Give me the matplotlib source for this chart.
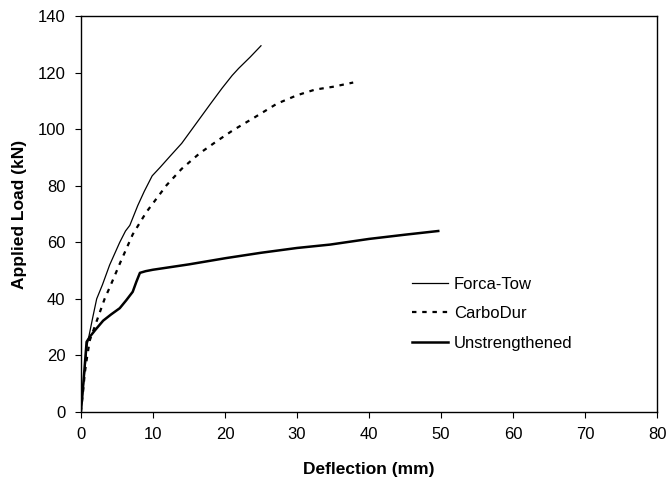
import matplotlib
matplotlib.use("Agg")
import matplotlib.pyplot as plt

plt.rcParams['font.family'] = ['Liberation Sans', 'DejaVu Sans']

# Forca-Tow strengthened beam
forca_x = [0, 0.3, 0.6, 0.9, 1.3, 1.7, 2.2, 3.0, 4.0, 5.4, 6.2, 6.8, 7.9, 8.8, 9.9,
           11.0, 12.4, 14.0, 16.0, 18.0, 19.6, 21.0, 21.9, 23.5, 25.0]
forca_y = [0, 8, 16, 24, 29, 34, 40, 45, 52, 60, 64, 66, 73, 78, 83.5,
           86.5, 90.5, 95, 102, 109, 114.5, 119, 121.5, 125.5, 129.5]

# CarboDur strengthened beam
carbo_x = [0, 0.3, 0.55, 0.9, 1.25, 1.9, 2.6, 3.3, 4.0, 5.5, 7.2, 9.1, 11.9, 14.0,
           16.5, 19.0, 21.1, 24.0, 27.2, 30.0, 32.5, 35.0, 37.8]
carbo_y = [0, 7, 13.8, 20, 25.4, 30, 35, 40, 44, 53, 62.8, 70.7, 80.2, 86,
           91.5, 96, 99.6, 104, 109, 112, 114, 115, 116.5]

# Unstrengthened beam
unstr_x = [0, 0.2, 0.5, 0.8, 1.25, 2.0, 3.1, 4.2, 5.4, 6.3, 7.2, 7.7, 8.2, 9.0,
           10.0, 15.0, 20.1, 25.0, 30.0, 34.6, 40.0, 45.0, 49.6]
unstr_y = [0, 5.4, 15, 24.8, 26.6, 29, 32.3, 34.5, 36.7, 39.5, 42.5, 46, 49.2, 49.8,
           50.3, 52.2, 54.4, 56.3, 58, 59.2, 61.2, 62.7, 64]

fig, ax = plt.subplots(figsize=(6.68, 4.87), dpi=100)
fig.subplots_adjust(left=0.121, right=0.984, top=0.967, bottom=0.154)

ax.plot(forca_x, forca_y, color='black', lw=0.9, label='Forca-Tow')
ax.plot(carbo_x, carbo_y, color='black', lw=1.6, linestyle=(0, (2.0, 2.6)), label='CarboDur')
ax.plot(unstr_x, unstr_y, color='black', lw=1.8, label='Unstrengthened')

ax.set_xlim(0, 80)
ax.set_ylim(0, 140)
ax.set_xticks(range(0, 81, 10))
ax.set_yticks(range(0, 141, 20))
ax.tick_params(direction='out', length=4, width=0.8, labelsize=12, pad=7)
for s in ax.spines.values():
    s.set_linewidth(1.0)

ax.set_xlabel('Deflection (mm)', fontsize=12.5, fontweight='bold', labelpad=14)
ax.set_ylabel('Applied Load (kN)', fontsize=12.5, fontweight='bold', labelpad=8)

ax.legend(loc='upper left', bbox_to_anchor=(0.56, 0.363), frameon=False, borderpad=0,
          fontsize=12, handlelength=2.15, handletextpad=0.36, labelspacing=0.88)

fig.savefig('out.png', dpi=100)
